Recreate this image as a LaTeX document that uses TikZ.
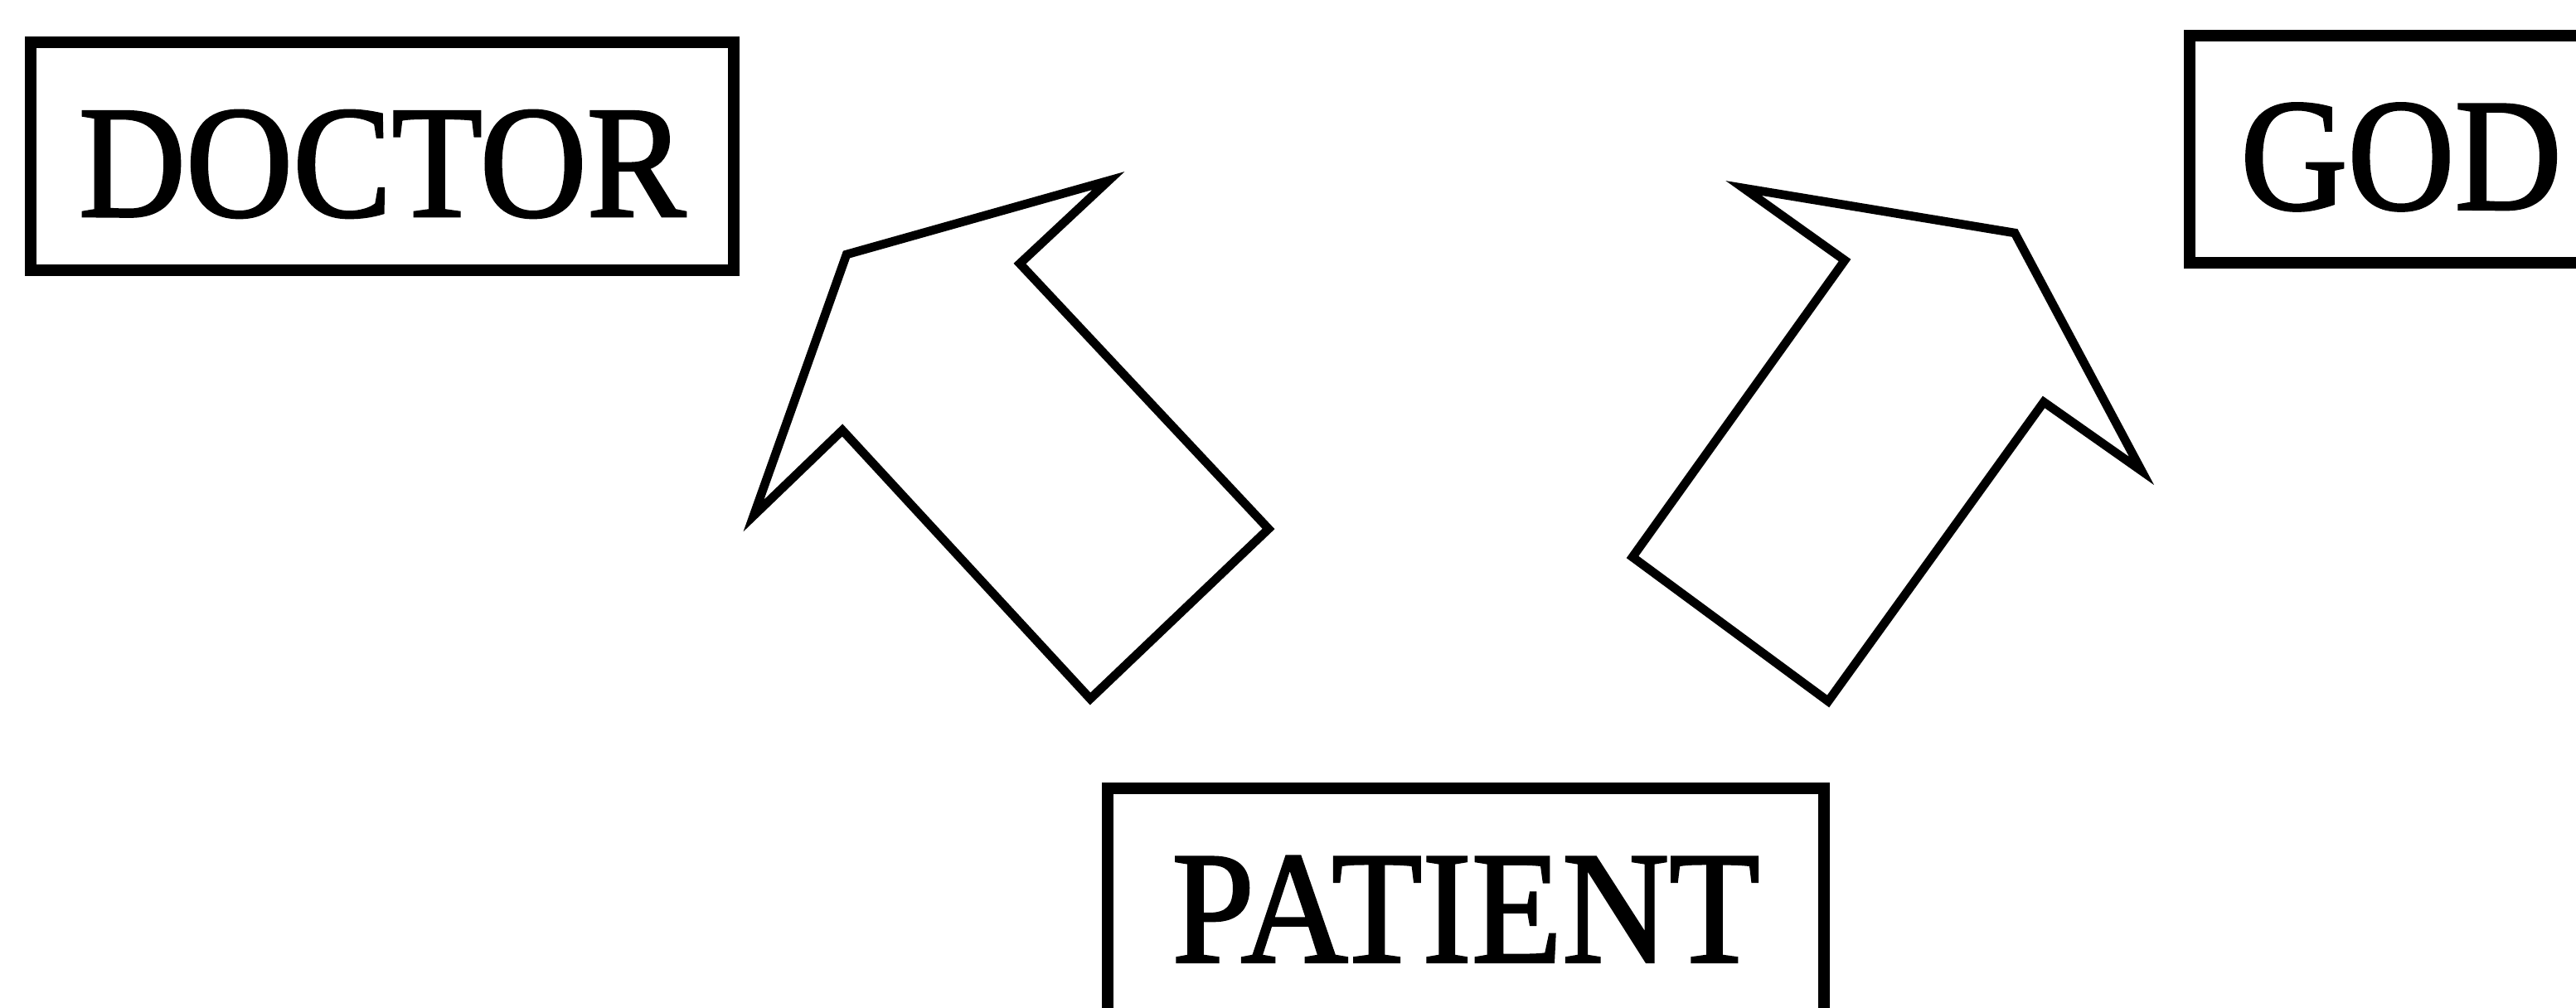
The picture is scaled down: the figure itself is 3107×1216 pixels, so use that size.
\documentclass[tikz,border=0pt]{standalone}
\usepackage{fontspec}
\newfontfamily\labelfont{Liberation Serif}[FakeStretch=0.925, FakeBold=1.5]
\begin{document}
\begin{tikzpicture}[x=0.01cm,y=-0.01cm,
  labelbox/.style={draw, line width=4pt, inner sep=0pt,
    font=\labelfont\fontsize{55}{60}\selectfont,
    text height=1.45cm, text depth=0cm, minimum height=2.74cm},
  blockarrow/.style={draw, line width=3pt, line join=miter}]
\useasboundingbox (0,0) rectangle (3107,1216);
\node[labelbox, minimum width=8.47cm] (doctor) at (461,188.5) {DOCTOR};
\node[labelbox, minimum width=5.10cm] (god) at (2896,180) {GOD};
\node[labelbox, minimum width=8.64cm] (patient) at (1768,1088) {PATIENT};
% left block arrow (towards DOCTOR)
\draw[blockarrow] (1337,218) -- (1021,307) -- (909,622) -- (1016,519)
  -- (1315,843) -- (1530,638) -- (1230,318) -- cycle;
% right block arrow (towards GOD)
\draw[blockarrow] (2103,227) -- (2430,281) -- (2583,568) -- (2465,485)
  -- (2205,846) -- (1969,672) -- (2225,314) -- cycle;
\end{tikzpicture}
\end{document}
